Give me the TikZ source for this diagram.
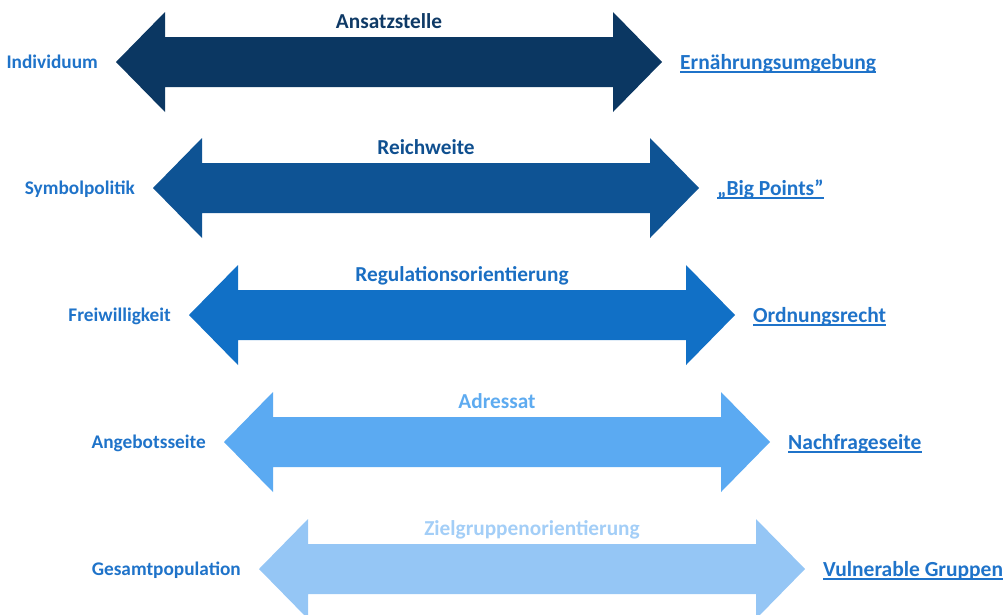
\documentclass[tikz,border=0pt]{standalone}
\usepackage{fontspec}
\setmainfont{Carlito}
\definecolor{aA}{HTML}{0B3762}
\definecolor{aB}{HTML}{0E5394}
\definecolor{aC}{HTML}{1170C6}
\definecolor{aD}{HTML}{5BAAF2}
\definecolor{aE}{HTML}{95C6F5}
\definecolor{tA}{HTML}{0F3A66}
\definecolor{tB}{HTML}{0F4F8F}
\definecolor{tC}{HTML}{1A6EC2}
\definecolor{tD}{HTML}{5EABF0}
\definecolor{tE}{HTML}{A3CEF7}
\definecolor{sidec}{HTML}{1F73C9}
\begin{document}
\begin{tikzpicture}[x=1pt,y=-1pt,
  side/.style={font=\bfseries\fontsize{19.3}{21}\selectfont, text=sidec, inner sep=0pt},
  rside/.style={font=\bfseries\fontsize{21.5}{23}\selectfont, text=sidec, inner sep=0pt},
  titletext/.style={font=\bfseries\fontsize{21.3}{23}\selectfont, inner sep=0pt, anchor=base},
  uline/.style={draw=sidec, line width=1.5pt}]
\useasboundingbox (0,0) rectangle (1006,614);
\foreach \xl/\yc/\ac/\tc/\title/\lt/\rt [count=\i] in {
  116/62/aA/tA/Ansatzstelle/Individuum/Ernährungsumgebung,
  153/188/aB/tB/Reichweite/Symbolpolitik/„Big Points”,
  189/315/aC/tC/Regulationsorientierung/Freiwilligkeit/Ordnungsrecht,
  224/442/aD/tD/Adressat/Angebotsseite/Nachfrageseite,
  259/569/aE/tE/Zielgruppenorientierung/Gesamtpopulation/Vulnerable Gruppen}{
  \fill[\ac] (\xl,\yc) -- (\xl+49,\yc-50) -- (\xl+49,\yc-25) -- (\xl+497,\yc-25)
    -- (\xl+497,\yc-50) -- (\xl+546,\yc) -- (\xl+497,\yc+50) -- (\xl+497,\yc+25)
    -- (\xl+49,\yc+25) -- (\xl+49,\yc+50) -- cycle;
  \coordinate (L\i) at (\xl,\yc);
  \coordinate (R\i) at (\xl+546,\yc);
  \node[titletext, text=\tc] (t\i) at (\xl+273,\yc-34) {\title};
  \node[side, anchor=base east] (l\i) at ([xshift=-18pt,yshift=-6.5pt]L\i) {\lt};
  \node[rside, anchor=base west] (r\i) at ([xshift=18pt,yshift=-7pt]R\i) {\rt};
  \draw[uline] ([yshift=-2.8pt]r\i.base west) -- ([yshift=-2.8pt]r\i.base east);
}
\end{tikzpicture}
\end{document}
